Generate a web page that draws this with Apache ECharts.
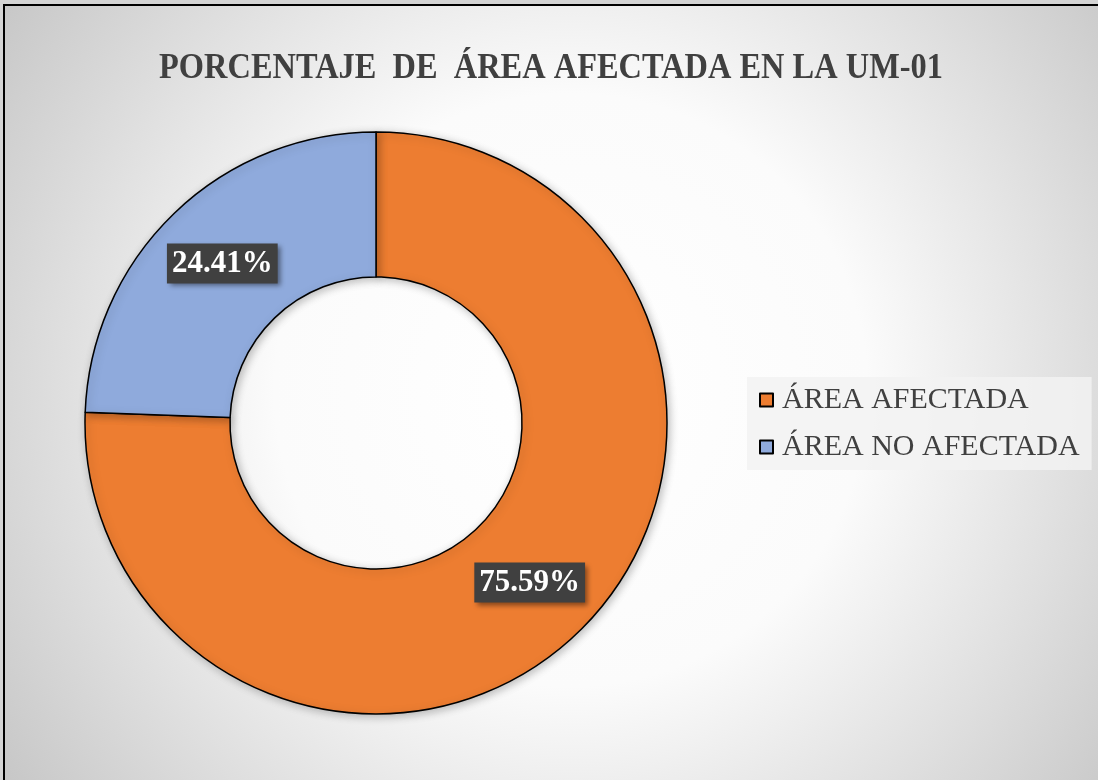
<!DOCTYPE html>
<html>
<head>
<meta charset="utf-8">
<script src="https://cdn.jsdelivr.net/npm/echarts@6/dist/echarts.min.js"></script>
<style>
html,body{margin:0;padding:0;background:#fff;}
#main{width:1098px;height:780px;}
</style>
</head>
<body>
<div id="main"></div>
<script>
const titleText = 'PORCENTAJE  DE  ÁREA AFECTADA EN LA UM-01';
const categories = ['ÁREA AFECTADA', 'ÁREA NO AFECTADA'];
const values = [75.59, 24.41];
const colors = ['#ED7D31', '#8FAADC'];

const chart = echarts.init(document.getElementById('main'), null, {renderer: 'canvas'});
const serif = '"Liberation Serif", "Times New Roman", serif';

const option = {
  backgroundColor: {
    type: 'radial', x: 0.52, y: 0.5, r: 0.95,
    colorStops: [
      {offset: 0, color: '#ffffff'},
      {offset: 0.4, color: '#fbfbfb'},
      {offset: 1, color: '#c0c0c0'}
    ]
  },
  legend: {
    orient: 'vertical',
    left: 747, top: 377,
    padding: [8, 12, 8, 12],
    backgroundColor: 'rgba(242,242,242,0.85)',
    itemGap: 17,
    itemWidth: 13, itemHeight: 13,
    icon: 'rect',
    data: categories,
    textStyle: {fontFamily: serif, fontSize: 30, lineHeight: 30, color: '#404040', padding: [0, 0, 0, 4]}
  },
  graphic: [
    {type: 'text', x: 551, y: 69, scaleX: 0.926, z: 50,
      style: {text: titleText, x: 0, y: 0, align: 'center', verticalAlign: 'middle',
        font: 'bold 35px ' + serif, fill: '#404040'}},
    {type: 'rect', shape: {x: 0, y: 0, width: 3, height: 780}, style: {fill: '#d4d4d4'}, z: 100},
    {type: 'rect', shape: {x: 0, y: 0, width: 1098, height: 4}, style: {fill: '#d4d4d4'}, z: 100},
    {type: 'rect', shape: {x: 3, y: 4, width: 2, height: 776}, style: {fill: '#000'}, z: 101},
    {type: 'rect', shape: {x: 3, y: 4, width: 1095, height: 2}, style: {fill: '#000'}, z: 101}
  ],
  series: [{
    type: 'pie',
    center: [376, 423],
    radius: [146, 291],
    startAngle: 90,
    clockwise: true,
    avoidLabelOverlap: false,
    silent: true,
    animation: false,
    itemStyle: {
      borderColor: '#000', borderWidth: 1.5,
      shadowBlur: 8, shadowColor: 'rgba(0,0,0,0.25)', shadowOffsetX: 2, shadowOffsetY: 2
    },
    label: {
      show: true,
      position: 'inside',
      formatter: p => p.value.toFixed(2) + '%',
      fontFamily: serif, fontSize: 31, fontWeight: 'bold', color: '#ffffff',
      backgroundColor: '#404040',
      padding: [6, 5, 3, 5],
      shadowBlur: 5, shadowColor: 'rgba(0,0,0,0.45)', shadowOffsetX: 3, shadowOffsetY: 3
    },
    labelLine: {show: false},
    data: categories.map((c, i) => ({name: c, value: values[i], itemStyle: {color: colors[i]}}))
  }]
};
chart.setOption(option);
</script>
</body>
</html>
